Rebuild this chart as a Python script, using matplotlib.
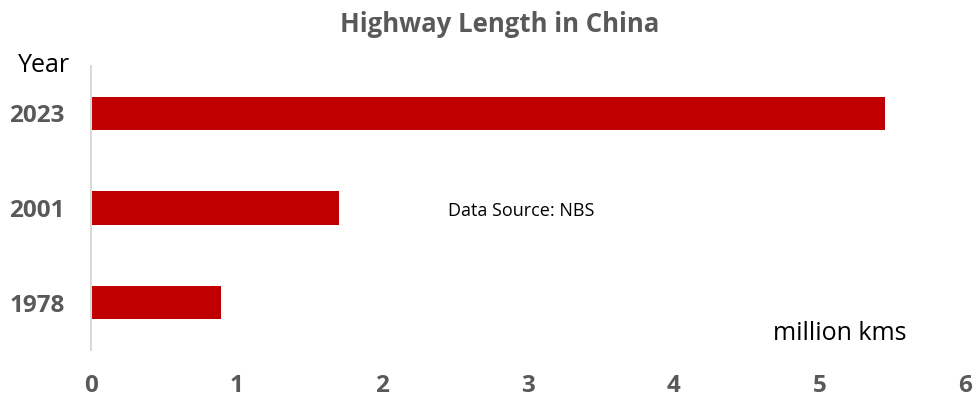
import matplotlib
matplotlib.use("Agg")
import matplotlib.pyplot as plt

years = ["1978", "2001", "2023"]
lengths = [0.89, 1.70, 5.45]
xticks = [0, 1, 2, 3, 4, 5, 6]

plt.rcParams['font.family'] = ['Open Sans', 'DejaVu Sans']
fig = plt.figure(figsize=(9.77, 3.99), dpi=100)
ax = fig.add_axes([91/977, 1-350/399, (965-91)/977, (350-66)/399])
ax.barh(range(len(years)), lengths, height=0.35, color="#c00000")
ax.set_xlim(0, 6)
ax.set_ylim(-0.5, 2.5)
ax.set_xticks(xticks)
ax.set_xticklabels([str(t) for t in xticks], fontsize=17.5, fontweight='bold', color="#595959")
ax.set_yticks(range(len(years)))
ax.set_yticklabels(years, fontsize=17.5, fontweight='bold', color="#595959")
ax.tick_params(axis='both', length=0)
ax.tick_params(axis='x', pad=17)
ax.tick_params(axis='y', pad=19)
for s in ['top', 'right', 'bottom']:
    ax.spines[s].set_visible(False)
ax.spines['left'].set_color("#d9d9d9")
ax.spines['left'].set_linewidth(1.5)

fig.text(500/977, 1-25/399, "Highway Length in China", ha='center', va='center',
         fontsize=18.5, fontweight='bold', color="#595959")
fig.text(44/977, 1-65/399, "Year", ha='center', va='center', fontsize=18, color='black')
fig.text(840/977, 1-333/399, "million kms", ha='center', va='center', fontsize=18, color='black')
fig.text(521/977, 1-211/399, "Data Source: NBS", ha='center', va='center', fontsize=13, color='black')

fig.savefig("out.png", dpi=100)
